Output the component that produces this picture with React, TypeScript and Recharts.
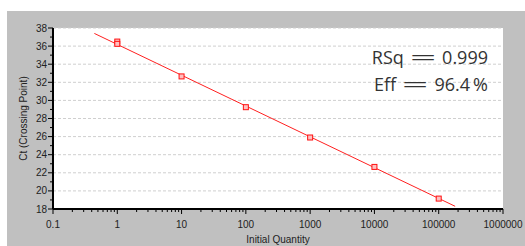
import {
  ComposedChart, Line, Scatter, XAxis, YAxis, CartesianGrid, Label,
} from "recharts";

const xMajor = [0.1, 1, 10, 100, 1000, 10000, 100000, 1000000];
const xLabels = ["0.1", "1", "10", "100", "1000", "10000", "100000", "1000000"];
const yMajor = [18, 20, 22, 24, 26, 28, 30, 32, 34, 36, 38];
const yMinor = [19, 21, 23, 25, 27, 29, 31, 33, 35, 37];

// standards: initial quantity vs Ct
const quantity = [1, 1, 10, 100, 1000, 10000, 100000];
const ct = [36.5, 36.25, 32.65, 29.25, 25.9, 22.65, 19.15];

// regression line end points
const fitQuantity = [0.44, 180000];
const fitCt = [37.4, 18.3];

const points = quantity.map((q, i) => ({ x: q, y: ct[i] }));
const fit = fitQuantity.map((q, i) => ({ x: q, y: fitCt[i] }));

const xMinor: number[] = [];
xMajor.slice(0, -1).forEach((d) => {
  for (let k = 2; k <= 9; k++) xMinor.push(k * d);
});
const xTicks = [...xMajor, ...xMinor].sort((a, b) => a - b);
const yTicks = [...yMajor, ...yMinor].sort((a, b) => a - b);

const FONT = "'Liberation Sans', Arial, sans-serif";

function XTick(props: any) {
  const { x, y, payload } = props;
  const idx = xMajor.indexOf(payload.value);
  const major = idx >= 0;
  return (
    <g>
      <line x1={x} x2={x} y1={y} y2={y + (major ? 5 : 3)} stroke="#000" />
      {major && (
        <text x={x} y={y + 15} textAnchor="middle" dominantBaseline="central"
          fontSize={10} fontFamily={FONT} fill="#222">
          {xLabels[idx]}
        </text>
      )}
    </g>
  );
}

function YTick(props: any) {
  const { x, y, payload } = props;
  const major = yMajor.includes(payload.value);
  return (
    <g>
      <line x1={x - (major ? 5 : 3)} x2={x} y1={y} y2={y} stroke="#000" />
      {major && (
        <text x={x - 6} y={y} textAnchor="end" dominantBaseline="central"
          fontSize={10} fontFamily={FONT} fill="#222">
          {payload.value}
        </text>
      )}
    </g>
  );
}

function Square(props: any) {
  const { cx, cy } = props;
  return <rect x={cx - 2.5} y={cy - 2.5} width={5} height={5} fill="#ffc0c0" stroke="#ff1010" strokeWidth={1} />;
}

const eq = (
  <span style={{ display: "inline-block", transform: "scaleX(2.6)", margin: "0 14px" }}>=</span>
);

export default function App() {
  return (
    <div style={{ position: "absolute", left: 0, top: 0, width: 525, height: 246, background: "#fff" }}>
      <div style={{ position: "absolute", left: 7, top: 11, width: 518, height: 235, background: "#c0c0c0" }}>
        <ComposedChart width={518} height={235} margin={{ top: 17, right: 22, left: 0, bottom: 0 }}>
          <CartesianGrid fill="#fff" vertical={false} horizontalValues={yMajor}
            stroke="#cfcfcf" strokeDasharray="3 2" />
          <XAxis dataKey="x" type="number" scale="log" domain={[0.1, 1000000]} allowDataOverflow
            ticks={xTicks} interval={0} height={37} tickSize={0} tickMargin={0}
            axisLine={{ stroke: "#000", strokeWidth: 2 }} tickLine={false} tick={<XTick />}>
            <Label position="insideBottom" offset={3} value="Initial Quantity"
              style={{ fontSize: 10, fontFamily: FONT, fill: "#222" }} />
          </XAxis>
          <YAxis type="number" domain={[18, 38]} allowDataOverflow ticks={yTicks} interval={0}
            width={46} tickSize={0} tickMargin={0}
            axisLine={{ stroke: "#000", strokeWidth: 2 }} tickLine={false} tick={<YTick />}>
            <Label content={({ viewBox }: any) => {
              const cx = viewBox.x + 16;
              const cy = viewBox.y + viewBox.height / 2;
              return (
                <text x={cx} y={cy} transform={`rotate(-90, ${cx}, ${cy})`} textAnchor="middle"
                  dominantBaseline="central" fontSize={10} fontFamily={FONT} fill="#222">
                  Ct (Crossing Point)
                </text>
              );
            }} />
          </YAxis>
          <Line data={fit} dataKey="y" stroke="#ff2020" strokeWidth={1} dot={false}
            isAnimationActive={false} legendType="none" />
          <Scatter data={points} dataKey="y" shape={<Square />} isAnimationActive={false} />
        </ComposedChart>
      </div>
      <div style={{ position: "absolute", right: 37, top: 44, fontFamily: "'Open Sans', sans-serif",
        fontSize: 18, color: "#333", lineHeight: "27px", textAlign: "right", whiteSpace: "nowrap" }}>
        <div>RSq{eq}0.999</div>
        <div>Eff{eq}96.4{"\u2009"}%</div>
      </div>
    </div>
  );
}
